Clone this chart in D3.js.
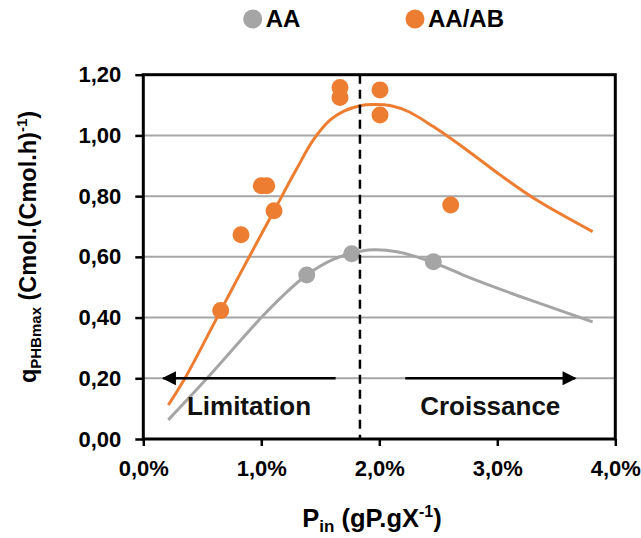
<!DOCTYPE html>
<html><head><meta charset="utf-8">
<script src="https://cdn.jsdelivr.net/npm/d3@7"></script>
<style>
body{margin:0;background:#fff}
svg{display:block;font-family:"Liberation Sans",Arial,Helvetica,sans-serif}
</style></head>
<body><svg id="chart" width="641" height="538"></svg>
<script>
// ---- data ----
const seriesNames = ["AA", "AA/AB"];
const seriesColors = ["#A5A5A5", "#ED7D31"];
// measured points [P_in (%), qPHBmax]
const aaPoints = [[1.385, 0.540], [1.766, 0.610], [2.458, 0.584]];
const aaabPoints = [[0.656, 0.423], [0.828, 0.673], [1.000, 0.834], [1.046, 0.834],
  [1.108, 0.752], [1.667, 1.158], [1.667, 1.125], [2.006, 1.150], [2.006, 1.067], [2.605, 0.771]];
// model curves
const aaFit = [[0.212, 0.063], [0.54, 0.200], [1.00, 0.400], [1.20, 0.478], [1.385, 0.540],
  [1.60, 0.590], [1.766, 0.612], [1.95, 0.623], [2.148, 0.617], [2.317, 0.600], [2.514, 0.573],
  [2.712, 0.540], [3.00, 0.497], [3.30, 0.455], [3.808, 0.386]];
const aaabFit = [[0.212, 0.112], [0.353, 0.200], [0.656, 0.423], [0.819, 0.543], [1.108, 0.752],
  [1.30, 0.890], [1.441, 0.985], [1.582, 1.050], [1.70, 1.080], [1.836, 1.098], [1.95, 1.102],
  [2.10, 1.098], [2.25, 1.078], [2.458, 1.029], [2.741, 0.952], [3.023, 0.870], [3.334, 0.787],
  [3.808, 0.683]];
const xTickValues = [0, 1, 2, 3, 4];
const yTickValues = [0, 0.2, 0.4, 0.6, 0.8, 1.0, 1.2];
const thresholdP = 1.836;
const regionLabels = ["Limitation", "Croissance"];
const arrowLeft = [1.63, 0.17];   // from, to (P_in %)
const arrowRight = [2.22, 3.66];
const arrowLevel = 0.2;

// ---- scales ----
const svg = d3.select("#chart");
const x = d3.scaleLinear().domain([0, 4]).range([143.3, 615.3]);
const y = d3.scaleLinear().domain([0, 1.2]).range([439, 74.7]);
const fmtX = d => d3.format(".1f")(d).replace(".", ",") + "%";
const fmtY = d => d3.format(".2f")(d).replace(".", ",");

svg.append("defs").append("marker")
  .attr("id", "arrow").attr("viewBox", "0 0 10 10").attr("refX", 9).attr("refY", 5)
  .attr("markerWidth", 16).attr("markerHeight", 14).attr("markerUnits", "userSpaceOnUse")
  .attr("orient", "auto")
  .append("path").attr("d", "M0,0L10,5L0,10z").attr("fill", "#000");

// gridlines
svg.append("g").selectAll("line").data(yTickValues.filter(v => v > 0 && v < 1.2)).join("line")
  .attr("x1", x(0)).attr("x2", x(4)).attr("y1", d => y(d)).attr("y2", d => y(d))
  .attr("stroke", "#A6A6A6").attr("stroke-width", 2);

// axes
const yAxis = svg.append("g").attr("transform", `translate(${x(0)},0)`)
  .call(d3.axisLeft(y).tickValues(yTickValues).tickFormat(fmtY).tickSize(8).tickPadding(14));
const xAxis = svg.append("g").attr("transform", `translate(0,${y(0)})`)
  .call(d3.axisBottom(x).tickValues(xTickValues).tickFormat(fmtX).tickSize(7).tickPadding(14));
[yAxis, xAxis].forEach(a => {
  a.select(".domain").remove();
  a.selectAll(".tick line").attr("stroke", "#000").attr("stroke-width", 2.5);
  a.selectAll("text").attr("font-size", 22).attr("font-weight", "bold").attr("fill", "#000")
    .attr("font-family", null);
});

// fits
const line = d3.line().x(d => x(d[0])).y(d => y(d[1])).curve(d3.curveCatmullRom.alpha(0.5));
[aaFit, aaabFit].forEach((f, i) => {
  svg.append("path").datum(f).attr("d", line).attr("fill", "none")
    .attr("stroke", seriesColors[i]).attr("stroke-width", 3);
});
// points
[aaPoints, aaabPoints].forEach((p, i) => {
  svg.append("g").selectAll("circle").data(p).join("circle")
    .attr("cx", d => x(d[0])).attr("cy", d => y(d[1])).attr("r", 8.5)
    .attr("fill", seriesColors[i]);
});

// threshold dashed line
svg.append("line").attr("x1", x(thresholdP)).attr("x2", x(thresholdP))
  .attr("y1", y(1.2)).attr("y2", y(0))
  .attr("stroke", "#000").attr("stroke-width", 2.5).attr("stroke-dasharray", "9,6");

// arrows
[arrowLeft, arrowRight].forEach(a => {
  svg.append("line").attr("x1", x(a[0])).attr("x2", x(a[1]))
    .attr("y1", y(arrowLevel)).attr("y2", y(arrowLevel))
    .attr("stroke", "#000").attr("stroke-width", 2.5).attr("marker-end", "url(#arrow)");
});
// region labels
const labelPos = [[0.896, 0.079], [2.94, 0.079]];
regionLabels.forEach((t, i) => {
  svg.append("text").attr("x", x(labelPos[i][0])).attr("y", y(labelPos[i][1]))
    .attr("text-anchor", "middle").attr("font-size", 26).attr("font-weight", "bold")
    .attr("fill", "#111").text(t);
});

// frame
svg.append("rect").attr("x", x(0)).attr("y", y(1.2)).attr("width", x(4) - x(0))
  .attr("height", y(0) - y(1.2)).attr("fill", "none").attr("stroke", "#000").attr("stroke-width", 3);

// legend
const legendX = [252.7, 415];
seriesNames.forEach((n, i) => {
  svg.append("circle").attr("cx", legendX[i]).attr("cy", 19).attr("r", 9.5).attr("fill", seriesColors[i]);
  svg.append("text").attr("x", legendX[i] + 13).attr("y", 27).attr("font-size", 24)
    .attr("font-weight", "bold").attr("fill", "#000").text(n);
});

// axis titles
const yt = svg.append("text").attr("transform", "translate(36,247) rotate(-90)")
  .attr("text-anchor", "middle").attr("font-weight", "bold").attr("font-size", 23.5).attr("fill", "#000");
yt.append("tspan").text("q");
yt.append("tspan").attr("font-size", 15).attr("dy", 5).text("PHBmax");
yt.append("tspan").attr("dy", -5).text(" (Cmol.(Cmol.h)");
yt.append("tspan").attr("font-size", 15).attr("dy", -9).text("-1");
yt.append("tspan").attr("dy", 9).text(")");

const xt = svg.append("text").attr("x", 372).attr("y", 527)
  .attr("text-anchor", "middle").attr("font-weight", "bold").attr("font-size", 25.5).attr("fill", "#000");
xt.append("tspan").text("P");
xt.append("tspan").attr("font-size", 17).attr("dy", 5).text("in");
xt.append("tspan").attr("dy", -5).text(" (gP.gX");
xt.append("tspan").attr("font-size", 16).attr("dy", -10).text("-1");
xt.append("tspan").attr("dy", 10).text(")");
</script>
</body></html>
